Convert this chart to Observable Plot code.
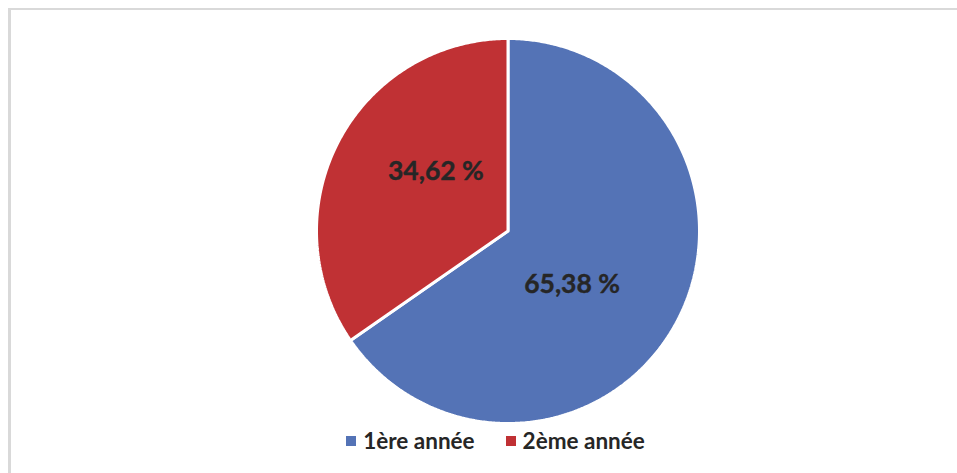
<!DOCTYPE html>
<html>
<head>
<meta charset="utf-8">
<script src="https://cdn.jsdelivr.net/npm/d3@7"></script>
<script src="https://cdn.jsdelivr.net/npm/@observablehq/plot@0.6"></script>
<style>
  html, body { margin: 0; padding: 0; background: #fff; }
  #wrap { position: relative; width: 957px; height: 473px; overflow: hidden; background: #fff; }
  #frame { position: absolute; left: 8px; top: 8px; width: 960px; height: 480px;
           border-top: 2px solid #d9d9d9; border-left: 3px solid #d9d9d9; box-sizing: border-box; }
  #chart { position: absolute; left: 0; top: 0; }
  #legend { position: absolute; left: 0; top: 427px; width: 957px; padding-left: 34px; box-sizing: border-box;
            display: flex; justify-content: center; align-items: center; gap: 31px;
            font-family: Lato, "Open Sans", sans-serif; font-weight: 700; font-size: 22.5px; color: #262626; }
  .item { display: flex; align-items: center; gap: 7px; }
  .sw { width: 10px; height: 10px; display: inline-block; }
</style>
</head>
<body>
<div id="wrap">
  <div id="frame"></div>
  <div id="chart"></div>
  <div id="legend"></div>
</div>
<script>
const categories = ["1ère année", "2ème année"];
const values = [65.38, 34.62];
const labels = ["65,38 %", "34,62 %"];
const colors = ["#5473B6", "#C03134"];

const pie = d3.pie().sort(null).value(d => d.value);
const arcs = pie(categories.map((c, i) => ({cat: c, value: values[i], label: labels[i]})));

// slice outlines in unit coordinates (angle clockwise from 12 o'clock)
const points = [];
for (const a of arcs) {
  const cat = a.data.cat;
  points.push({cat, x: 0, y: 0});
  const n = Math.max(2, Math.ceil((a.endAngle - a.startAngle) / (Math.PI / 360)));
  for (let k = 0; k <= n; k++) {
    const t = a.startAngle + (a.endAngle - a.startAngle) * k / n;
    points.push({cat, x: Math.sin(t), y: Math.cos(t)});
  }
  points.push({cat, x: 0, y: 0});
}

const labelShift = 11.7 * Math.PI / 180;
const labelRadius = 0.46;
const labelData = arcs.map(a => {
  const m = (a.startAngle + a.endAngle) / 2 + labelShift;
  return {text: a.data.label, x: labelRadius * Math.sin(m), y: labelRadius * Math.cos(m)};
});

const chart = Plot.plot({
  width: 957,
  height: 425,
  marginLeft: 316,
  marginRight: 258,
  marginTop: 38,
  marginBottom: 2,
  x: {domain: [-1, 1], axis: null},
  y: {domain: [-1, 1], axis: null},
  color: {domain: categories, range: colors},
  style: {fontFamily: "Lato, 'Open Sans', sans-serif", background: "transparent"},
  marks: [
    ...categories.map((c, i) => Plot.line(points.filter(p => p.cat === c), {
      x: "x", y: "y", fill: colors[i], stroke: "white", strokeWidth: 3, strokeLinejoin: "miter"
    })),
    Plot.text(labelData, {
      x: "x", y: "y", text: "text", fontSize: 26.5, fontWeight: "bold", fill: "#262626",
      stroke: "#262626", strokeWidth: 0.4, dx: -4, dy: -3
    })
  ]
});
document.getElementById("chart").appendChild(chart);

const legend = document.getElementById("legend");
categories.forEach((c, i) => {
  const item = document.createElement("div");
  item.className = "item";
  const sw = document.createElement("span");
  sw.className = "sw";
  sw.style.background = colors[i];
  const tx = document.createElement("span");
  tx.textContent = c;
  item.appendChild(sw);
  item.appendChild(tx);
  legend.appendChild(item);
});
</script>
</body>
</html>
